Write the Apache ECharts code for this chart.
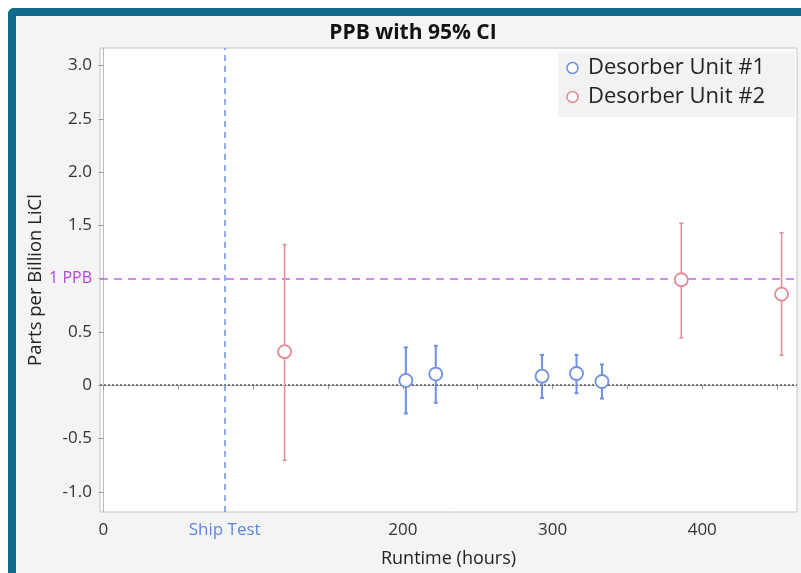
<!DOCTYPE html>
<html>
<head>
<meta charset="utf-8">
<script src="https://cdn.jsdelivr.net/npm/echarts@6/dist/echarts.min.js"></script>
<style>
  html, body { margin: 0; padding: 0; background: #ffffff; }
  #frame { position: absolute; left: 8px; top: 8px; width: 793px; height: 565px;
           box-sizing: border-box; border-left: 8px solid #136b8c; border-top: 8px solid #136b8c;
           border-top-left-radius: 6px; background: #f4f4f4; }
  #chart { position: absolute; left: 0; top: 0; width: 801px; height: 573px; }
</style>
</head>
<body>
<div id="frame"></div>
<div id="chart"></div>
<script>
// ---- Data ----
const unit1Hours = [202, 222, 293, 316, 333];
const unit1Ppb   = [0.045, 0.105, 0.085, 0.11, 0.035];
const unit1Lower = [-0.265, -0.165, -0.12, -0.075, -0.125];
const unit1Upper = [0.355, 0.37, 0.285, 0.285, 0.195];

const unit2Hours = [121, 386, 453];
const unit2Ppb   = [0.315, 0.99, 0.855];
const unit2Lower = [-0.705, 0.445, 0.28];
const unit2Upper = [1.32, 1.52, 1.43];

const shipTestHours = 81;
const limitPpb = 1;
const xTickValues = [0, 50, 100, 150, 200, 250, 300, 350, 400, 450];
const xLabelValues = [0, shipTestHours, 200, 300, 400];
const yTickValues = [-1, -0.5, 0, 0.5, 1, 1.5, 2, 2.5, 3];

const seriesNames = ['Desorber Unit #1', 'Desorber Unit #2'];
const blue = '#6e8fe2';
const red = '#e38a96';

const points = (xs, ys) => xs.map((x, i) => [x, ys[i]]);
const bars = (xs, lo, hi) => xs.map((x, i) => [x, lo[i], hi[i]]);

function errorBar(color, width) {
  return function (params, api) {
    const x = api.value(0);
    const pLo = api.coord([x, api.value(1)]);
    const pHi = api.coord([x, api.value(2)]);
    const cap = 2;
    const st = { stroke: color, lineWidth: width };
    return {
      type: 'group',
      children: [
        { type: 'line', shape: { x1: pHi[0], y1: pHi[1], x2: pLo[0], y2: pLo[1] }, style: st },
        { type: 'line', shape: { x1: pHi[0] - cap, y1: pHi[1], x2: pHi[0] + cap, y2: pHi[1] }, style: st },
        { type: 'line', shape: { x1: pLo[0] - cap, y1: pLo[1], x2: pLo[0] + cap, y2: pLo[1] }, style: st }
      ]
    };
  };
}

const chart = echarts.init(document.getElementById('chart'), null, { renderer: 'canvas' });
const font = '"Open Sans", "Noto Sans", sans-serif';

chart.setOption({
  backgroundColor: 'transparent',
  textStyle: { fontFamily: font },
  title: {
    text: 'PPB with 95% CI',
    left: 408, top: 18, textAlign: 'center',
    textStyle: { fontFamily: font, fontSize: 21, fontWeight: 'bold', color: '#111' }
  },
  legend: {
    orient: 'vertical',
    right: 6, top: 52,
    backgroundColor: '#f2f2f2',
    padding: [5, 30, 9, 8],
    itemGap: 7,
    itemWidth: 11, itemHeight: 11,
    textStyle: { fontFamily: font, fontSize: 22, color: '#222', padding: [0, 0, 0, 5] },
    data: [
      { name: seriesNames[0], icon: 'circle', itemStyle: { color: '#fff', borderColor: blue, borderWidth: 1.5 } },
      { name: seriesNames[1], icon: 'circle', itemStyle: { color: '#fff', borderColor: red, borderWidth: 1.5 } }
    ]
  },
  grid: {
    left: 100, right: 4, top: 48, bottom: 61,
    show: true, backgroundColor: '#ffffff', borderColor: '#c4c4c4', borderWidth: 1
  },
  xAxis: {
    type: 'value', min: -2.3, max: 463.3,
    name: 'Runtime (hours)', nameLocation: 'middle', nameGap: 38, nameMoveOverlap: false,
    nameTextStyle: { fontFamily: font, fontSize: 18, color: '#222' },
    axisLine: { show: true, lineStyle: { color: '#b8b8b8' } },
    axisTick: { show: true, customValues: xTickValues, length: 4, lineStyle: { color: '#999' } },
    splitLine: { show: false },
    axisLabel: {
      customValues: xLabelValues, margin: 10, fontSize: 17, color: '#333', fontFamily: font,
      formatter: v => (v === shipTestHours ? '{ship|Ship Test}' : String(v)),
      rich: { ship: { color: '#5b86df', fontSize: 17, fontFamily: font } }
    }
  },
  yAxis: {
    type: 'value', min: -1.19, max: 3.165,
    name: 'Parts per Billion LiCl', nameLocation: 'middle', nameGap: 55, nameRotate: 90,
    nameMoveOverlap: false,
    nameTextStyle: { fontFamily: font, fontSize: 18.5, color: '#222' },
    axisLine: { show: true, lineStyle: { color: '#b8b8b8' } },
    axisTick: { show: true, customValues: yTickValues, length: 5, lineStyle: { color: '#999' } },
    splitLine: { show: false },
    axisLabel: {
      customValues: yTickValues, margin: 8, fontSize: 17, color: '#333', fontFamily: font,
      formatter: v => (v === limitPpb ? '{ppb|1 PPB}' : (v === 0 ? '0' : v.toFixed(1))),
      rich: { ppb: { color: '#b348d8', fontSize: 16, fontFamily: font } }
    }
  },
  series: [
    {
      name: 'Unit 1 CI', type: 'custom', renderItem: errorBar(blue, 2),
      data: bars(unit1Hours, unit1Lower, unit1Upper), z: 3, silent: true
    },
    {
      name: 'Unit 2 CI', type: 'custom', renderItem: errorBar(red, 1.5),
      data: bars(unit2Hours, unit2Lower, unit2Upper), z: 3, silent: true
    },
    {
      name: seriesNames[0], type: 'scatter', symbol: 'circle', symbolSize: 13, z: 5,
      itemStyle: { color: '#fff', borderColor: blue, borderWidth: 1.8, opacity: 1 },
      data: points(unit1Hours, unit1Ppb),
      markLine: {
        silent: true, symbol: 'none', label: { show: false }, z: 1,
        data: [
          { yAxis: 0, lineStyle: { color: '#555', type: [2, 2], width: 1.5 } },
          { xAxis: shipTestHours, lineStyle: { color: '#6a90e4', type: [6, 5], width: 1.5 } }
        ]
      }
    },
    {
      name: seriesNames[1], type: 'scatter', symbol: 'circle', symbolSize: 13, z: 5,
      itemStyle: { color: '#fff', borderColor: red, borderWidth: 1.8, opacity: 1 },
      data: points(unit2Hours, unit2Ppb),
      markLine: {
        silent: true, symbol: 'none', label: { show: false }, z: 1,
        data: [
          { yAxis: limitPpb, lineStyle: { color: '#c265e8', type: [8, 6], width: 1.5 } }
        ]
      }
    }
  ]
});
</script>
</body>
</html>
